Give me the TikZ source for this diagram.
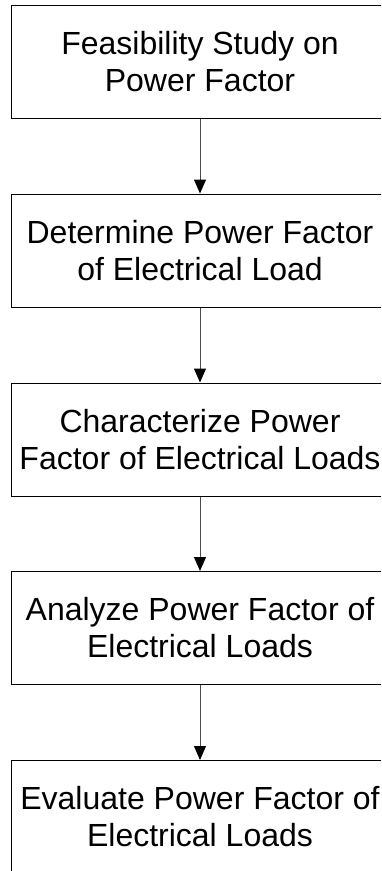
\documentclass[tikz,border=0pt]{standalone}
\usepackage{fontspec}
\setmainfont{Liberation Sans}
\usetikzlibrary{arrows.meta}

\begin{document}
\begin{tikzpicture}[x=1pt,y=-1pt,
  stagebox/.style={draw=black,line width=1pt,minimum width=378pt,
    minimum height=113pt,align=center,inner sep=0pt,
    font=\fontsize{32}{37}\selectfont},
  flow/.style={draw=black!70,line width=1pt,
    -{Triangle[width=12pt,length=14pt,color=black]}}]
\clip (0,0) rectangle (381,871);
\node[stagebox] (feasibility) at (200,61.5)
{Feasibility Study on\\Power Factor};
\node[stagebox] (determine) at (200,250.5)
{Determine Power Factor\\of Electrical Load};
\node[stagebox] (characterize) at (200,439.5)
{Characterize Power\\Factor of Electrical Loads};
\node[stagebox] (analyze) at (200,628)
{Analyze Power Factor of\\Electrical Loads};
\node[stagebox] (evaluate) at (200,817)
{Evaluate Power Factor of\\Electrical Loads};

\draw[flow] (feasibility) -- (determine);
\draw[flow] (determine) -- (characterize);
\draw[flow] (characterize) -- (analyze);
\draw[flow] (analyze) -- (evaluate);
\end{tikzpicture}
\end{document}
